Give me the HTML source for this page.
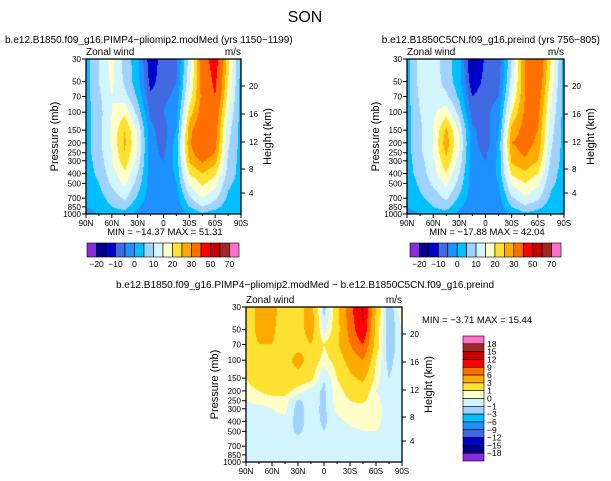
<!DOCTYPE html>
<html><head><meta charset="utf-8"><style>
body{margin:0;background:#fff;width:611px;height:481px;overflow:hidden;position:relative;font-family:"Liberation Sans",sans-serif}
canvas{position:absolute}
svg{position:absolute;left:0;top:0}
text{font-family:"Liberation Sans",sans-serif;fill:#000}
</style></head><body>
<canvas id="c1" width="155" height="155" style="left:86px;top:59px"></canvas>
<canvas id="c2" width="157" height="155" style="left:407px;top:59px"></canvas>
<canvas id="c3" width="156" height="155" style="left:246px;top:307px"></canvas>
<svg id="s" width="611" height="481"></svg>
<script>
const lats=[90,75,60,45,30,15,0,-15,-30,-45,-60,-75,-90];
const plev=[30,50,70,100,150,200,250,300,400,500,700,850,1000];
const pli=[
[3,10,17,8,2,-14,-7,-6,12,35,45,22,3],
[3,10,16,9,2,-12,-7,-5,14,33,42,20,3],
[3,9,15,12,4,-9,-6,-4,17,32,40,18,3],
[3,8,15,19,8,-6,-5,-2,22,33,36,15,3],
[3,8,16,25,14,-4,-7,0,28,36,33,12,3],
[3,8,16,26,15,-3,-7,2,29,37,32,11,3],
[3,8,15,25,14,-3,-6,2,28,34,30,10,3],
[3,7,15,23,13,-3,-5,2,26,31,27,9,3],
[3,6,13,19,10,-3,-4,1,20,25,21,8,3],
[2,5,11,16,8,-3,-4,0,16,21,17,6,3],
[1,3,7,11,4,-3,-5,-2,9,15,11,4,2],
[0,2,5,7,1,-4,-5,-3,5,10,7,2,1],
[-2,0,2,3,-2,-5,-5,-4,0,4,2,0,5]];
const pre=[
[3,12,13,7,2,-17,-9,-8,10,30,38,20,3],
[3,12,13,8,2,-14,-8,-7,12,30,36,18,3],
[3,11,13,11,4,-10,-7,-5,15,30,34,16,3],
[3,10,14,18,8,-7,-6,-3,20,31,32,14,3],
[3,9,15,26,14,-4,-7,-1,27,32,30,12,3],
[3,9,15,28,15,-3,-8,1,30,32,29,11,3],
[3,9,15,26,14,-3,-6,1,28,31,27,10,3],
[3,8,14,24,13,-3,-5,1,26,29,25,9,3],
[3,7,13,20,10,-3,-4,1,21,24,20,7,3],
[2,6,11,16,8,-3,-4,0,16,20,16,6,3],
[1,4,7,11,4,-3,-5,-2,9,14,11,4,2],
[0,2,5,7,1,-4,-5,-3,5,9,7,2,1],
[-2,0,2,3,-2,-5,-5,-4,0,4,2,0,5]];
const dif=[
[1,4,4,1.5,2,4,-1.5,2,8,13,3,-2,1],
[1,4,3.5,1.5,2,4,-0.5,2,7,12,2,-2,0],
[1,3,3,2,2,3,1,2.5,6,9,2,-2,0],
[1,2,2,2,4,2,0.5,1.5,4,6,1,-1.5,0],
[1,2,2,2,2,1.5,-1,1,2.5,3.5,0.5,-1,0],
[0.5,1,1.5,1.5,0.5,-0.5,-1.2,0.5,1.5,2,0,-0.5,0],
[0,0.5,0.5,0.5,-1.2,-0.5,-1.2,0.5,1,1.2,0.3,-0.5,0],
[-0.5,-0.5,0,0.3,-1.5,-0.5,-1.3,0.3,0.8,0.5,0.3,-0.3,0],
[-0.5,-0.5,-0.3,-0.3,-1.5,-0.5,-1.2,-0.3,0.2,0.2,0.2,-0.3,0],
[-0.5,-0.5,-0.5,-0.5,-1.2,-0.5,-1,-0.5,-0.2,0,0,-0.3,0],
[-0.5,-0.5,-0.5,-0.5,-0.5,-0.5,-0.5,-0.5,-0.3,0,-0.5,-0.5,-0.5],
[-0.5,-0.5,-0.5,-0.5,-0.5,-0.5,-0.5,-0.5,-0.5,-0.3,-0.5,-0.5,-0.5],
[-0.5,-0.5,-0.5,-0.5,-0.5,-0.5,-0.5,-0.5,-0.5,-0.5,-0.5,-0.5,-0.5]];
const lev1=[-20,-15,-10,-5,0,5,10,15,20,25,30,40,50,60,70];
const lev1Labels=["-20","-10","0","10","20","30","50","70"];
const lev3=[-18,-15,-12,-9,-6,-3,-1,0,1,3,6,9,12,15,18];
const cols=["#8a2be2","#00008b","#0000cd","#4169e1","#1e90ff","#00bfff","#a0d2ff","#d2f5ff","#ffffc8","#ffe132","#ffaa00","#ff6e00","#ff0000","#c80000","#a02828","#ff6ec8"];
const pTicks=[30,50,70,100,150,200,250,300,400,500,700,850,1000];
const kmTicks=[4,8,12,16,20];
const kmFrac=[134,110,83,55,27];
const xTicks=["90N","60N","30N","0","30S","60S","90S"];

const lnTop=Math.log(30),lnBot=Math.log(1000);
function yOfP(p,h){return (Math.log(p)-lnTop)/(lnBot-lnTop)*h;}
function colorOf(v,lev){let i=0;while(i<lev.length&&v>=lev[i])i++;return cols[i];}
function fill(id,data,lev){
  const c=document.getElementById(id),ctx=c.getContext('2d'),w=c.width,h=c.height;
  const rowY=plev.map(p=>yOfP(p,h));
  for(let py=0;py<h;py++){
    const yy=py+0.5;let r=0;while(r<plev.length-2&&rowY[r+1]<yy)r++;
    const ty=Math.min(1,Math.max(0,(yy-rowY[r])/(rowY[r+1]-rowY[r])));
    for(let px=0;px<w;px++){
      const fx=(px+0.5)/w*(lats.length-1);let ci=Math.min(lats.length-2,Math.floor(fx));const tx=fx-ci;
      const v=(data[r][ci]*(1-tx)+data[r][ci+1]*tx)*(1-ty)+(data[r+1][ci]*(1-tx)+data[r+1][ci+1]*tx)*ty;
      ctx.fillStyle=colorOf(v,lev);ctx.fillRect(px,py,1,1);
    }
  }
}
fill('c1',pli,lev1);fill('c2',pre,lev1);fill('c3',dif,lev3);

const S=document.getElementById('s'),NS="http://www.w3.org/2000/svg";
function el(t,a,txt){const e=document.createElementNS(NS,t);for(const k in a)e.setAttribute(k,a[k]);if(txt!==undefined)e.textContent=txt;S.appendChild(e);return e;}
function axes(x0,y0,w,h,tag){
  let e=el('rect',{x:x0,y:y0,width:w,height:h,fill:'none',stroke:'#000','stroke-width':1.3});
  
  pTicks.forEach(p=>{const y=y0+yOfP(p,h);
    el('line',{x1:x0-4,x2:x0,y1:y,y2:y,stroke:'#000'});
    e=el('text',{x:x0-5,y:y+3,'font-size':8,'text-anchor':'end'},String(p));
    });
  kmTicks.forEach((k,i)=>{const y=y0+kmFrac[i];
    el('line',{x1:x0+w,x2:x0+w+4,y1:y,y2:y,stroke:'#000'});
    e=el('text',{x:x0+w+8,y:y+3,'font-size':8},String(k));
    });
  for(let i=0;i<=12;i++){const x=x0+i/12*w;el('line',{x1:x,x2:x,y1:y0+h,y2:y0+h+(i%2?2:4),stroke:'#000'});}
  xTicks.forEach((t,i)=>{const x=x0+i/6*w;
    e=el('text',{x:x,y:y0+h+12,'font-size':8,'text-anchor':'middle'},t);
    });
  e=el('text',{x:x0-28,y:y0+h/2,'font-size':11,'text-anchor':'middle',transform:`rotate(-90 ${x0-28} ${y0+h/2})`},'Pressure (mb)');
  
  e=el('text',{x:x0+w+30,y:y0+h/2,'font-size':11,'text-anchor':'middle',transform:`rotate(-90 ${x0+w+30} ${y0+h/2})`},'Height (km)');
  
  e=el('text',{x:x0,y:y0-4,'font-size':10},'Zonal wind');
  
  e=el('text',{x:x0+w,y:y0-4,'font-size':10,'text-anchor':'end'},'m/s');
  
}
axes(86,59,155,155,'left-panel');
axes(407,59,157,155,'right-panel');
axes(246,307,156,155,'diff-panel');

function hbar(x0,y0,w,h,tag){const bw=w/16;
  cols.forEach((c,i)=>{const e=el('rect',{x:x0+i*bw,y:y0,width:bw,height:h,fill:c,stroke:'#000','stroke-width':0.6});
    });
  lev1Labels.forEach((t,i)=>{const e=el('text',{x:x0+(1+2*i)*bw,y:y0+h+10,'font-size':8.5,'text-anchor':'middle'},t.replace('-','\u2212'));
    });
}
hbar(87,243,152,14,'left-colorbar');
hbar(410,243,151,14,'right-colorbar');
(function(){const x0=463,y0=336,w=21,h=125,bh=h/16;
  cols.slice().reverse().forEach((c,i)=>{const e=el('rect',{x:x0,y:y0+i*bh,width:w,height:bh,fill:c,stroke:'#000','stroke-width':0.6});
    });
  lev3.slice().reverse().forEach((v,i)=>{const e=el('text',{x:x0+w+3,y:y0+(i+1)*bh+3,'font-size':8.5},String(v).replace('-','\u2212'));
    });
})();
function txt(x,y,s,sz,anchor,name,fill){const e=el('text',{x:x,y:y,'font-size':sz,'text-anchor':anchor||'start',fill:fill||'#000'},s);
  }
txt(305,22,'SON',16,'middle','main-title','#333');
txt(5,43,'b.e12.B1850.f09_g16.PIMP4\u2212pliomip2.modMed (yrs 1150\u22121199)',10,'start','left-panel-title');
txt(600,43,'b.e12.B1850C5CN.f09_g16.preind (yrs 756\u2212805)',10,'end','right-panel-title');
txt(305,288,'b.e12.B1850.f09_g16.PIMP4\u2212pliomip2.modMed \u2212 b.e12.B1850C5CN.f09_g16.preind',10,'middle','diff-panel-title');
txt(165,235,'MIN = \u221214.37   MAX =  51.31',9.5,'middle','left-minmax');
txt(487,235,'MIN = \u221217.88   MAX =  42.04',9.5,'middle','right-minmax');
txt(422,323,'MIN =  \u22123.71   MAX =  15.44',9.5,'start','diff-minmax');
</script>
</body></html>
